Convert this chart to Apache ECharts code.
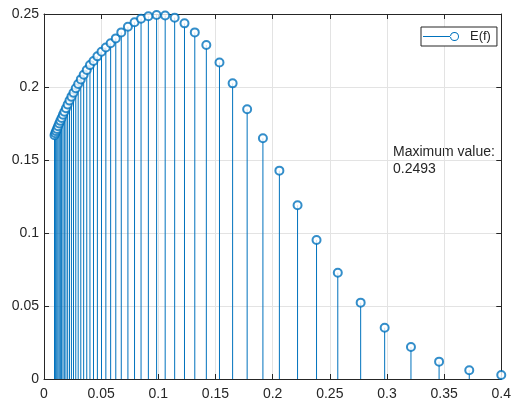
<!DOCTYPE html>
<html>
<head>
<meta charset="utf-8">
<script src="https://cdn.jsdelivr.net/npm/echarts@6/dist/echarts.min.js"></script>
<style>
  html, body { margin: 0; padding: 0; background: #fff; }
  #chart { width: 514px; height: 401px; }
</style>
</head>
<body>
<div id="chart"></div>
<script>
// 频率点 (stem x)
var freqs = [
  0.0092, 0.0099, 0.0106, 0.0114, 0.0123, 0.0133, 0.0143, 0.0154, 0.0166, 0.0178,
  0.0192, 0.0207, 0.0223, 0.0240, 0.0258, 0.0278, 0.0299, 0.0322, 0.0347, 0.0374,
  0.0402, 0.0433, 0.0467, 0.0503, 0.0541, 0.0583, 0.0628, 0.0676, 0.0734, 0.0792,
  0.0849, 0.0913, 0.0985, 0.1060, 0.1143, 0.1229, 0.1319, 0.1420, 0.1535, 0.1650,
  0.1777, 0.1915, 0.2059, 0.2218, 0.2384, 0.2570, 0.2770, 0.2980, 0.3210, 0.3456,
  0.3720, 0.4000
];
// E(f) 值
var energy = [
  0.1670, 0.1684, 0.1698, 0.1713, 0.1731, 0.1750, 0.1768, 0.1788, 0.1810, 0.1831,
  0.1855, 0.1880, 0.1907, 0.1934, 0.1961, 0.1991, 0.2021, 0.2052, 0.2084, 0.2116,
  0.2150, 0.2178, 0.2210, 0.2242, 0.2270, 0.2300, 0.2333, 0.2374, 0.2413, 0.2443,
  0.2468, 0.2484, 0.2493, 0.2490, 0.2475, 0.2436, 0.2374, 0.2288, 0.2168, 0.2025,
  0.1847, 0.1649, 0.1427, 0.1190, 0.0952, 0.0728, 0.0523, 0.0351, 0.0219, 0.0119,
  0.0060, 0.0027
];
var seriesName = 'E(f)';
var maxLabel = 'Maximum value:';
var maxValue = '0.2493';
var xRange = [0, 0.4, 0.05];
var yRange = [0, 0.25, 0.05];

var stemColor = '#0072BD';
var axisColor = '#262626';
var fontFamily = '"Liberation Sans", Arial, sans-serif';

var points = freqs.map(function (f, i) { return [f, energy[i]]; });

var chart = echarts.init(document.getElementById('chart'));

// 上/右边框轴 (MATLAB box on)
function boxAxis(position, range) {
  return {
    type: 'value',
    position: position,
    min: range[0],
    max: range[1],
    interval: range[2],
    axisLine: { show: true, onZero: false, lineStyle: { color: axisColor, width: 1 } },
    axisTick: { show: true, inside: true, length: 5, lineStyle: { color: axisColor } },
    axisLabel: { show: false },
    splitLine: { show: false }
  };
}

var option = {
  animation: false,
  backgroundColor: '#fff',
  grid: { left: 44, right: 6, top: 14, bottom: 22, containLabel: false },
  xAxis: [
    {
      type: 'value',
      position: 'bottom',
      min: xRange[0],
      max: xRange[1],
      interval: xRange[2],
      axisLine: { show: true, onZero: false, lineStyle: { color: axisColor, width: 1 } },
      axisTick: { show: true, inside: true, length: 5, lineStyle: { color: axisColor } },
      axisLabel: { color: axisColor, fontSize: 14, fontFamily: fontFamily, margin: 8 },
      splitLine: { show: true, lineStyle: { color: '#e3e3e3', width: 1 } }
    },
    boxAxis('top', xRange)
  ],
  yAxis: [
    {
      type: 'value',
      position: 'left',
      min: yRange[0],
      max: yRange[1],
      interval: yRange[2],
      axisLine: { show: true, onZero: false, lineStyle: { color: axisColor, width: 1 } },
      axisTick: { show: true, inside: true, length: 5, lineStyle: { color: axisColor } },
      axisLabel: { color: axisColor, fontSize: 14, fontFamily: fontFamily, margin: 5 },
      splitLine: { show: true, lineStyle: { color: '#e3e3e3', width: 1 } }
    },
    boxAxis('right', yRange)
  ],
  legend: {
    left: 421,
    top: 27,
    orient: 'horizontal',
    padding: [3, 6, 3, 2],
    backgroundColor: '#fff',
    borderColor: axisColor,
    borderWidth: 1,
    borderRadius: 0,
    itemWidth: 36,
    itemHeight: 9,
    symbolKeepAspect: false,
    textStyle: { color: axisColor, fontSize: 13, fontFamily: fontFamily, padding: [0, 0, 0, 6] },
    data: [{
      name: seriesName,
      // 线 + 空心圆
      icon: 'path://M0,4 L28,4 L28,5 L0,5 Z M27,4.5 A4.5,4.5 0 1,0 36,4.5 A4.5,4.5 0 1,0 27,4.5 Z M28,4.5 A3.5,3.5 0 1,1 35,4.5 A3.5,3.5 0 1,1 28,4.5 Z',
      itemStyle: { color: stemColor, borderWidth: 0, opacity: 1 }
    }]
  },
  graphic: [{
    type: 'text',
    left: 393,
    top: 144,
    style: {
      text: maxLabel + '\n' + maxValue,
      fill: axisColor,
      font: '14px ' + fontFamily,
      lineHeight: 17
    }
  }],
  series: [
    {
      // 茎线
      type: 'custom',
      name: 'stems',
      data: points,
      encode: { x: 0, y: 1 },
      renderItem: function (params, api) {
        var top = api.coord([api.value(0), api.value(1)]);
        var base = api.coord([api.value(0), 0]);
        return {
          type: 'line',
          shape: { x1: base[0], y1: base[1], x2: top[0], y2: top[1] },
          style: { stroke: stemColor, lineWidth: 1 }
        };
      },
      z: 2
    },
    {
      type: 'scatter',
      name: seriesName,
      data: points,
      symbol: 'emptyCircle',
      symbolSize: 8,
      itemStyle: { color: stemColor, borderColor: stemColor, borderWidth: 1 },
      z: 3
    }
  ]
};

chart.setOption(option);
</script>
</body>
</html>
